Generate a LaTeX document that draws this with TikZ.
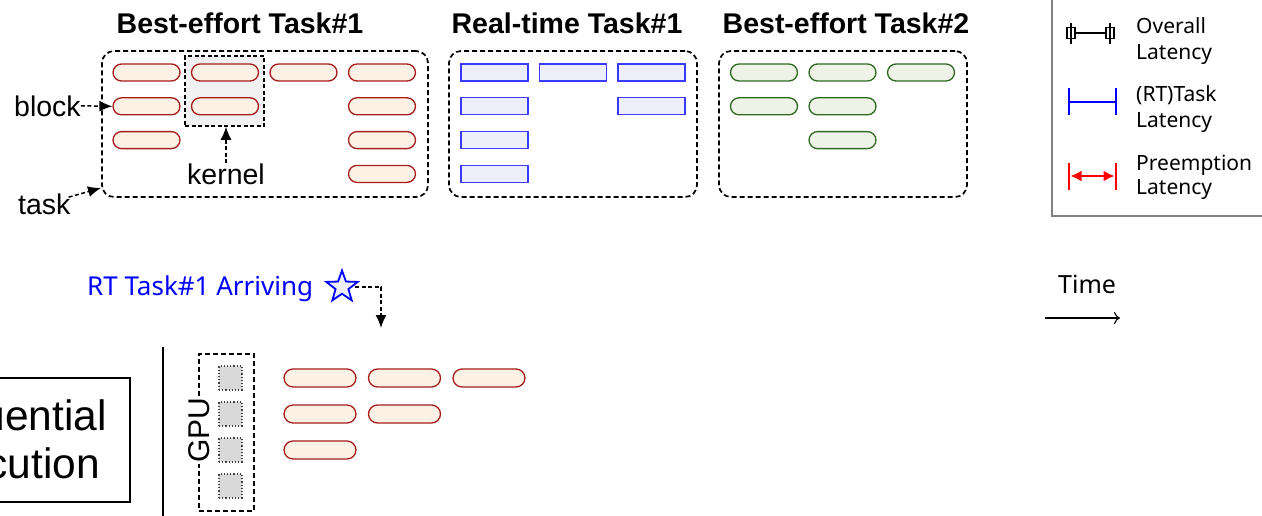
\documentclass[tikz,border=0pt]{standalone}
\usepackage{fontspec}
\setmainfont{Liberation Sans}
\newfontfamily\lgfont{Noto Sans}
\usetikzlibrary{arrows.meta,shapes.geometric,calc}

\definecolor{kred}{HTML}{A51C1C}
\definecolor{kredfill}{HTML}{FDF1E5}
\definecolor{kgreen}{HTML}{2E6A22}
\definecolor{kgreenfill}{HTML}{EEF2E7}
\definecolor{kblue}{HTML}{3A3AFF}
\definecolor{kbluefill}{HTML}{EFEFFC}
\definecolor{hlgray}{HTML}{F1F1F1}
\definecolor{smgray}{HTML}{D9D9D9}
\definecolor{legframe}{HTML}{808080}

\begin{document}
\begin{tikzpicture}[x=1pt,y=-1pt,
  pill/.style={draw=kred, fill=kredfill, line width=1.3pt, rounded corners=8.5pt,
    minimum width=67pt, minimum height=17pt, inner sep=0pt},
  gpill/.style={pill, draw=kgreen, fill=kgreenfill},
  bpill/.style={pill, draw=kblue, fill=kbluefill, rounded corners=0pt, line width=1.1pt},
  lpill/.style={pill, minimum width=72pt, minimum height=18pt, rounded corners=9pt},
  taskbox/.style={draw, dash pattern=on 5pt off 3pt, line width=1.7pt,
    rounded corners=12pt, inner sep=0pt},
  title/.style={font=\fontsize{28.5}{34}\selectfont\bfseries, anchor=base, inner sep=0pt},
  lbl/.style={font=\fontsize{28.5}{34}\selectfont, anchor=base west, inner sep=0pt},
  dasharrow/.style={dash pattern=on 4pt off 2.5pt, line width=1.5pt,
    -{Latex[length=13pt,width=11pt]}},
  legtext/.style={font=\lgfont\fontsize{21}{26}\selectfont, anchor=base west,
    inner sep=0pt, align=left},
  seqtext/.style={font=\fontsize{42.5}{47}\selectfont, anchor=base east, inner sep=0pt},
  gsq/.style={draw=black!75, dotted, line width=1.2pt, fill=smgray,
    minimum width=23pt, minimum height=24pt, inner sep=0pt}
]
\useasboundingbox (0,0) rectangle (1262,515);
\clip (0,0) rectangle (1262,515);

% ---- task titles ----
\node[title] (t1) at (240,33) {Best-effort Task\#1};
\node[title] (t2) at (567,33) {Real-time Task\#1};
\node[title] (t3) at (846,33) {Best-effort Task\#2};

% ---- task frames ----
\node[taskbox, minimum width=326pt, minimum height=146pt] (be1) at (265,124) {};
\node[taskbox, minimum width=248pt, minimum height=146pt] (rt1) at (573,124) {};
\node[taskbox, minimum width=248pt, minimum height=146pt] (be2) at (843,124) {};

% highlighted kernel
\node[draw, fill=hlgray, dash pattern=on 4pt off 2.5pt, line width=1.5pt,
  minimum width=79pt, minimum height=70pt, inner sep=0pt] (hl) at (224.5,91) {};

% ---- blocks of best-effort task 1 ----
\foreach \r/\c in {1/1,1/2,1/3,1/4,2/1,2/2,2/4,3/1,3/4,4/4}
  \node[pill] (ba-\r-\c) at ({146.5+78.5*(\c-1)},{72.5+33.8*(\r-1)}) {};

% ---- blocks of real-time task 1 ----
\foreach \r/\c in {1/1,1/2,1/3,2/1,2/3,3/1,4/1}
  \node[bpill] (rb-\r-\c) at ({494.5+78.5*(\c-1)},{72.5+33.8*(\r-1)}) {};

% ---- blocks of best-effort task 2 ----
\foreach \r/\c in {1/1,1/2,1/3,2/1,2/2,3/2}
  \node[gpill] (bb-\r-\c) at ({764+78.5*(\c-1)},{72.5+33.8*(\r-1)}) {};

% ---- annotations ----
\node[lbl] (block) at (14,116) {block};
\node[lbl] (kernel) at (187,184) {kernel};
\node[lbl] (task) at (18,214) {task};
\coordinate (taskend) at (101,188);
\coordinate (kstart) at (226,163);
\draw[dasharrow] (block.east) -- (ba-2-1.west);
\draw[dasharrow] (kstart) -- (kstart |- hl.south);
\draw[dasharrow] ([xshift=-2pt,yshift=-4pt]task.north east) -- (taskend);

% ---- legend ----
\draw[legframe, line width=1.5pt] (1052,-10) rectangle (1275,216);
% overall latency
\coordinate (ol1) at (1071,33);
\coordinate (ol2) at (1110,33);
\draw[line width=1.2pt] (ol1) -- (ol2);
\foreach \p in {ol1,ol2}{
  \draw[line width=1.2pt, fill=white] ($(\p)+(-4,-5.5)$) rectangle ($(\p)+(4,5.5)$);
  \draw[line width=1.2pt] ($(\p)+(0,-10)$) -- ($(\p)+(0,11)$);
}
\node[legtext] (lg1) at (1136,33) {Overall};
\node[legtext] (lg1b) at (1136,59) {Latency};
% task latency
\coordinate (tl1) at (1069,102);
\coordinate (tl2) at (1116,102);
\draw[blue, line width=2.4pt] (tl1) -- (tl2)
  ($(tl1)+(0,-14)$) -- ($(tl1)+(0,13)$)
  ($(tl2)+(0,-14)$) -- ($(tl2)+(0,13)$);
\node[legtext] (lg2) at (1136,101) {(RT)Task};
\node[legtext] (lg2b) at (1136,127) {Latency};
% preemption latency
\coordinate (pl1) at (1069,176);
\coordinate (pl2) at (1116,176);
\draw[red, line width=2.4pt] ($(pl1)+(0,-13)$) -- ($(pl1)+(0,14)$)
  ($(pl2)+(0,-13)$) -- ($(pl2)+(0,14)$);
\draw[red, line width=2pt, {Latex[length=11pt,width=11pt]}-{Latex[length=11pt,width=11pt]}]
  ($(pl1)+(1.5,0)$) -- ($(pl2)+(-1.5,0)$);
\node[legtext] (lg3) at (1136,170) {Preemption};
\node[legtext] (lg3b) at (1136,194) {Latency};

% ---- arrival marker ----
\node[font=\lgfont\fontsize{26}{30}\selectfont, text=blue, anchor=base west, inner sep=0pt]
  (arr) at (87,295) {RT Task\#1 Arriving};
\node[star, star points=5, star point ratio=2.45, minimum size=33pt, inner sep=0pt,
  draw=blue, fill=kbluefill, line width=1.8pt] (star) at (342,287) {};
\coordinate (arrtip) at (381,328);
\coordinate (starout) at (355,287);
\draw[dasharrow, line width=1.4pt] (starout) -| (arrtip);

% ---- time axis ----
\node[font=\lgfont\fontsize{25}{30}\selectfont, anchor=base west, inner sep=0pt]
  (time) at (1058,293) {Time};
\coordinate (ta) at (1045,318);
\coordinate (tb) at (1120,318);
\draw[line width=1.1pt, -{To[length=6pt,width=12pt]}] (ta) -- (tb);

% ---- sequential execution ----
\node[draw, line width=1.3pt, minimum width=252pt, minimum height=124pt,
  inner sep=0pt] (seq) at (4,440) {};
\node[seqtext] (seq1) at (107,430) {Sequential};
\node[seqtext] (seq2) at (100,478) {Execution};
\coordinate (vtop) at (163,347);
\coordinate (vbot) at (163,520);
\draw[line width=1.5pt] (vtop) -- (vbot);

% ---- GPU ----
\node[draw, dash pattern=on 5pt off 3pt, line width=1.5pt, minimum width=55pt,
  minimum height=157pt, inner sep=0pt] (gpu) at (226.5,432.5) {};
\node[rotate=90, fill=white, inner sep=1pt, font=\fontsize{30}{34}\selectfont] (gpul) at (199,430) {GPU};
\foreach \i in {1,...,4}
  \node[gsq] (sm-\i) at (230.5,{378+36*(\i-1)}) {};

% ---- executed blocks ----
\foreach \r/\c in {1/1,1/2,1/3,2/1,2/2,3/1}
  \node[lpill] (ex-\r-\c) at ({320+84.5*(\c-1)},{378+36*(\r-1)}) {};
\end{tikzpicture}
\end{document}
